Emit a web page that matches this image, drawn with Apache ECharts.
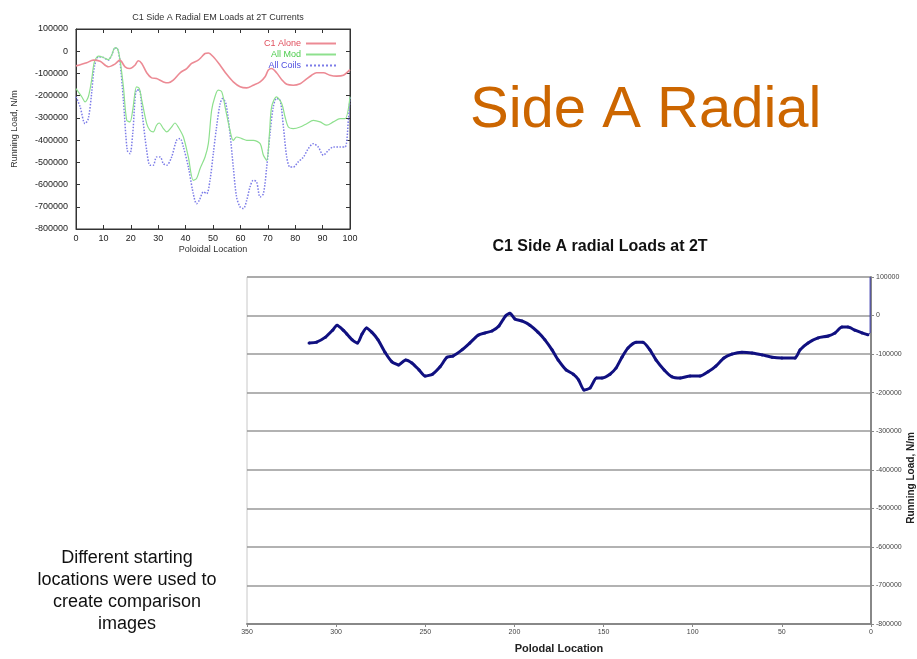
<!DOCTYPE html>
<html>
<head>
<meta charset="utf-8">
<script src="https://cdn.jsdelivr.net/npm/echarts@6/dist/echarts.min.js"></script>
<style>
html,body{margin:0;padding:0;background:#fff;}
#chart{width:917px;height:659px;}
</style>
</head>
<body>
<div id="chart"></div>
<script>
// ---------- Small chart (top-left) data ----------
const redLoc = [0,3.9,6.3,8.8,11.8,14.2,16,17.9,19.7,21.5,22.7,24,25.8,27.6,29.4,31.9,33.7,35.5,38,40.4,42.2,44.6,45.9,47.1,48.3,50.1,52.6,55,57.4,59.9,62.3,64.7,67.2,69,70.2,71.4,73.2,75.1,76.9,79.3,81.8,83.6,86,87.8,90.3,92.7,95.1,97.6,100];
const redVal = [-66000,-52000,-40000,-45000,-70000,-58000,-40000,-70000,-78000,-63000,-43000,-55000,-97000,-120000,-123000,-138000,-142000,-130000,-97000,-78000,-55000,-40000,-25000,-10000,-8000,-25000,-63000,-104000,-138000,-160000,-165000,-153000,-138000,-115000,-85000,-78000,-97000,-128000,-149000,-153000,-146000,-130000,-108000,-97000,-97000,-108000,-112000,-108000,-83000];
const greenLoc = [0,2.1,3.3,4.5,5.7,6.7,8.2,10,11.8,13,14.2,15.1,16,17.3,18.5,19.7,20.7,22.1,23.1,24,25.8,27,28.2,29.4,30.4,31.9,33.1,34.9,36.1,37.3,39.2,41,42.8,44,45.3,47.1,48.3,49.5,50.7,51.9,53.2,54.4,56.2,57.4,58.6,60.5,62.3,64.7,67.2,68.4,69.6,70.6,71.4,73.2,75.1,76.3,77.5,79.3,81.8,84.2,86.6,89.1,91.5,93.9,96.4,98.2,100];
const greenVal = [-168000,-205000,-228000,-205000,-130000,-48000,-22000,-28000,-38000,-18000,15000,12000,-33000,-160000,-310000,-318000,-265000,-160000,-168000,-220000,-326000,-356000,-363000,-333000,-323000,-348000,-363000,-341000,-323000,-341000,-386000,-476000,-581000,-573000,-528000,-476000,-416000,-266000,-205000,-175000,-183000,-250000,-356000,-401000,-386000,-393000,-401000,-401000,-416000,-468000,-491000,-371000,-250000,-205000,-236000,-296000,-341000,-348000,-341000,-326000,-311000,-318000,-333000,-318000,-303000,-303000,-205000];
const blueLoc = [0,1.5,3.3,4.5,5.7,6.7,8.2,10,11.8,13,14.2,15.1,16,17.3,18.7,19.7,20.7,22.1,23.1,24.3,25.8,27,28.2,29.4,30.7,31.9,33.1,34.9,36.7,38,39.2,41,42.8,44,45,46.5,47.7,48.9,50.1,51.3,52.6,53.5,54.7,56.2,57.4,58.6,59.9,61.1,62.3,63.5,64.7,65.9,67.2,68.4,69.6,70.8,72,73.2,74.5,75.7,76.9,78.1,79.3,81.1,83,84.8,86.6,88.4,90.3,92.1,93.9,96.4,98.2,99.4,100];
const blueVal = [-205000,-250000,-326000,-303000,-190000,-70000,-25000,-28000,-40000,-18000,15000,12000,-40000,-220000,-446000,-461000,-371000,-175000,-175000,-296000,-446000,-513000,-513000,-476000,-476000,-506000,-513000,-476000,-401000,-393000,-431000,-521000,-641000,-686000,-671000,-633000,-641000,-581000,-461000,-341000,-236000,-213000,-236000,-371000,-521000,-656000,-701000,-708000,-671000,-611000,-581000,-588000,-656000,-641000,-521000,-371000,-250000,-213000,-220000,-341000,-476000,-521000,-521000,-498000,-476000,-438000,-416000,-431000,-468000,-446000,-431000,-431000,-431000,-311000,-205000];
const smallNames = ['C1 Alone', 'All Mod', 'All Coils'];

// ---------- Big chart data ----------
const bigLoc = [315.2,311,306,302,299.5,296,294,291,288,285.5,283,280,276.5,272.6,268.7,265,261,257.5,253.5,250,246,241.7,237.8,234.5,229.4,225,220.4,216.5,212.6,208.7,205,202.5,199.7,195.8,191.3,186.8,182.9,178.9,175.5,171,167,164,161,157.6,154,150.9,146.4,143,139.7,136.3,131.8,127.9,124,120.6,116,111.6,107,101.5,95.9,91.4,87,82.5,78,72.4,66.7,61,55.5,50,42.6,39.8,35.3,29.7,24,20.2,16.3,12.9,9,5,1.7];
const bigVal = [-71000,-69000,-56000,-38000,-25000,-38000,-48000,-63000,-71000,-48000,-32000,-43000,-63000,-95000,-120000,-128000,-115000,-123000,-141000,-157000,-152000,-133000,-108000,-105000,-89000,-71000,-51000,-45000,-40000,-27000,-1000,6000,-9000,-14000,-25000,-43000,-63000,-89000,-115000,-141000,-152000,-167000,-193000,-188000,-162000,-162000,-152000,-136000,-108000,-84000,-69000,-69000,-89000,-115000,-141000,-159000,-162000,-157000,-157000,-146000,-131000,-110000,-100000,-95000,-97000,-102000,-108000,-110000,-110000,-89000,-71000,-58000,-53000,-45000,-30000,-30000,-38000,-45000,-50000];
const spikeLoc = [1.7, 0.5, 0.5];
const spikeVal = [-50000, -45000, 100000];

const pairs = (xs, ys) => xs.map((x, i) => [x, ys[i]]);
const plain = v => String(v);
const FONT = 'Liberation Sans, Arial, sans-serif';

const chart = echarts.init(document.getElementById('chart'), null, {renderer: 'canvas'});

const smallAxisLine = {onZero: false, lineStyle: {color: '#333', width: 1}};
const smallTick = {show: true, inside: true, length: 4, lineStyle: {color: '#333'}};

chart.setOption({
  backgroundColor: '#ffffff',
  animation: false,
  textStyle: {fontFamily: FONT},
  title: [
    {text: 'C1 Side A Radial EM Loads at 2T Currents', left: 213, top: 8, textAlign: 'center',
     textStyle: {fontSize: 9, fontWeight: 'normal', color: '#333', fontFamily: FONT}},
    {text: 'C1 Side A radial Loads at 2T', left: 595, top: 234, textAlign: 'center',
     textStyle: {fontSize: 16, fontWeight: 'bold', color: '#111', fontFamily: FONT}}
  ],
  legend: {
    orient: 'vertical', right: 575, top: 34, align: 'right',
    itemWidth: 30, itemHeight: 8, itemGap: 2,
    itemStyle: {opacity: 0},
    textStyle: {fontSize: 9, fontFamily: FONT},
    data: [
      {name: smallNames[0], textStyle: {color: '#e0505e'}},
      {name: smallNames[1], textStyle: {color: '#4ccc4c'}},
      {name: smallNames[2], textStyle: {color: '#5050e0'}}
    ]
  },
  grid: [
    {left: 76, top: 29, width: 274, height: 200, show: true, borderColor: '#333', borderWidth: 1,
     backgroundColor: 'transparent', containLabel: false, outerBoundsMode: 'none'},
    {left: 247, top: 277, width: 624, height: 347, show: true, borderColor: '#c8c8c8', borderWidth: 1,
     backgroundColor: 'transparent', containLabel: false, outerBoundsMode: 'none'}
  ],
  xAxis: [
    {gridIndex: 0, type: 'value', min: 0, max: 100, interval: 10, position: 'bottom',
     name: 'Poloidal Location', nameLocation: 'middle', nameGap: 16,
     nameTextStyle: {fontSize: 9, color: '#333', fontFamily: FONT},
     axisLine: smallAxisLine, axisTick: smallTick, splitLine: {show: false},
     axisLabel: {fontSize: 9, color: '#222', margin: 5, fontFamily: FONT}},
    {gridIndex: 0, type: 'value', min: 0, max: 100, interval: 10, position: 'top',
     axisLine: smallAxisLine, axisTick: smallTick, splitLine: {show: false}, axisLabel: {show: false}},
    {gridIndex: 1, type: 'value', min: 0, max: 350, interval: 50, inverse: true, position: 'bottom',
     name: 'Polodal Location', nameLocation: 'middle', nameGap: 19,
     nameTextStyle: {fontSize: 11, fontWeight: 'bold', color: '#222', fontFamily: FONT},
     axisLine: {onZero: false, lineStyle: {color: '#888', width: 2}},
     axisTick: {show: true, inside: false, length: 3, lineStyle: {color: '#888'}},
     splitLine: {show: false},
     axisLabel: {fontSize: 7, color: '#444', margin: 5, fontFamily: FONT}}
  ],
  yAxis: [
    {gridIndex: 0, type: 'value', min: -800000, max: 100000, interval: 100000, position: 'left',
     name: 'Running Load, N/m', nameLocation: 'middle', nameGap: 57, nameRotate: 90,
     nameTextStyle: {fontSize: 9, color: '#333', fontFamily: FONT},
     axisLine: smallAxisLine, axisTick: smallTick, splitLine: {show: false},
     axisLabel: {fontSize: 9, color: '#222', margin: 8, formatter: plain, fontFamily: FONT}},
    {gridIndex: 0, type: 'value', min: -800000, max: 100000, interval: 100000, position: 'right',
     axisLine: smallAxisLine, axisTick: smallTick, splitLine: {show: false}, axisLabel: {show: false}},
    {gridIndex: 1, type: 'value', min: -800000, max: 100000, interval: 100000, position: 'right',
     axisLine: {show: true, onZero: false, lineStyle: {color: '#888', width: 2}},
     axisTick: {show: true, inside: false, length: 3, lineStyle: {color: '#888'}},
     splitLine: {show: true, lineStyle: {color: '#999', width: 1.5}},
     axisLabel: {fontSize: 7, color: '#444', margin: 5, formatter: plain, fontFamily: FONT}}
  ],
  series: [
    {name: smallNames[2], type: 'line', xAxisIndex: 0, yAxisIndex: 0, data: pairs(blueLoc, blueVal),
     smooth: 0.3, symbol: 'none', lineStyle: {color: '#7c7ce8', width: 1.5, type: 'dotted'}, itemStyle: {color: '#7c7ce8'}, z: 2},
    {name: smallNames[1], type: 'line', xAxisIndex: 0, yAxisIndex: 0, data: pairs(greenLoc, greenVal),
     smooth: 0.3, symbol: 'none', lineStyle: {color: '#8ee08e', width: 1.2}, itemStyle: {color: '#8ee08e'}, z: 3},
    {name: smallNames[0], type: 'line', xAxisIndex: 0, yAxisIndex: 0, data: pairs(redLoc, redVal),
     smooth: 0.3, symbol: 'none', lineStyle: {color: '#ec8a94', width: 1.6}, itemStyle: {color: '#ec8a94'}, z: 4},
    {name: 'C1 radial', type: 'line', xAxisIndex: 2, yAxisIndex: 2, data: pairs(bigLoc, bigVal),
     smooth: 0.2, symbol: 'circle', symbolSize: 3, showSymbol: true,
     lineStyle: {color: '#101080', width: 3}, itemStyle: {color: '#101080'}, z: 5},
    {name: 'spike', type: 'line', xAxisIndex: 2, yAxisIndex: 2, data: pairs(spikeLoc, spikeVal),
     symbol: 'none', lineStyle: {color: '#3a3ab0', width: 1}, z: 5}
  ],
  graphic: [
    {type: 'text', left: 470, top: 82, style: {text: 'Side A Radial', fill: '#cc6600', font: 'normal 58px ' + FONT}},
    {type: 'text', x: 127, y: 591, style: {text: 'Different starting\nlocations were used to\ncreate comparison\nimages',
      fill: '#111', font: 'normal 18px ' + FONT, align: 'center', verticalAlign: 'middle', lineHeight: 22.3}},
    {type: 'text', x: 911, y: 478, rotation: Math.PI / 2,
     style: {text: 'Running Load, N/m', fill: '#222', font: 'bold 10px ' + FONT, align: 'center', verticalAlign: 'middle'}}
  ]
});
</script>
</body>
</html>
